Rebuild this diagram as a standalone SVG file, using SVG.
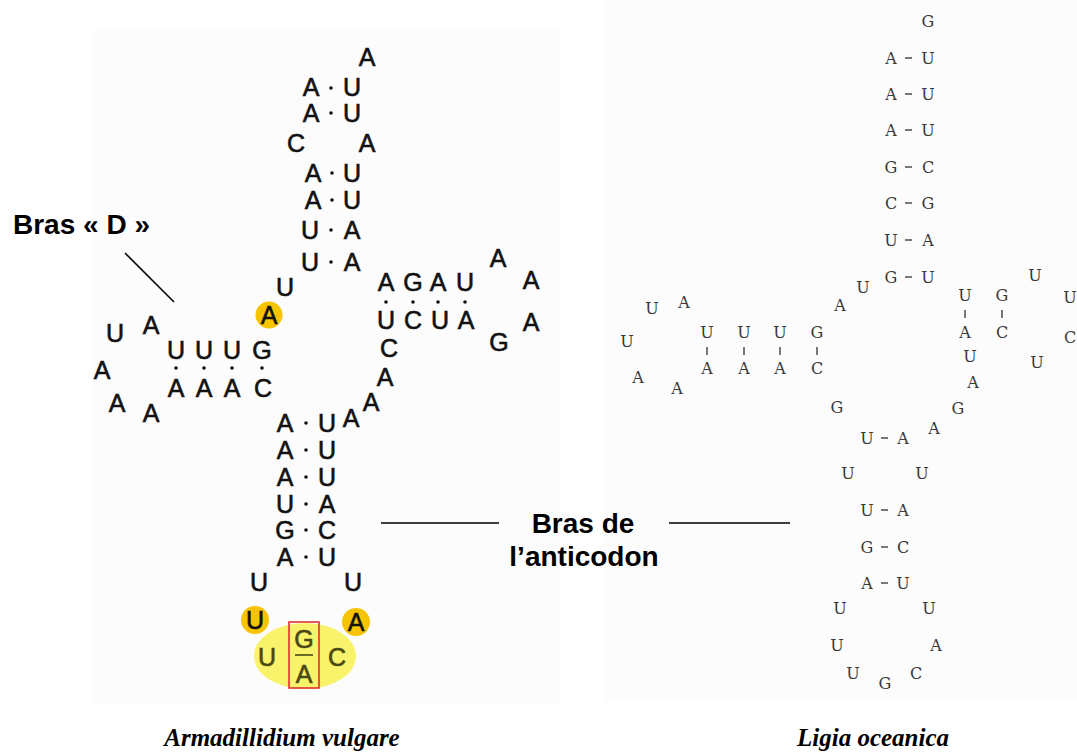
<svg xmlns="http://www.w3.org/2000/svg" width="1077" height="753" viewBox="0 0 1077 753">
<style>
.n{font-family:"Liberation Sans",Arial,sans-serif;font-size:25px;fill:#111;stroke:#111;stroke-width:0.6;text-anchor:middle}
.o{fill:#4a4715;stroke:#4a4715}
.r{font-family:"DejaVu Serif",serif;font-size:16px;fill:#383838;text-anchor:middle}
.lab{font-family:"Liberation Sans",Arial,sans-serif;font-weight:bold;font-size:28px;fill:#000}
.cap{font-family:"Liberation Serif","Times New Roman",serif;font-weight:bold;font-style:italic;font-size:25px;fill:#000;text-anchor:middle}
.dot{fill:#111}
.tick{stroke:#404040;stroke-width:1.4}
.ln{stroke:#000;stroke-width:1.6}
.hl{fill:#F6C400}
</style>
<rect x="0" y="0" width="1077" height="753" fill="#fff"/>
<rect x="93" y="30" width="467" height="675" fill="#fcfcfc"/>
<rect x="605" y="0" width="472" height="700" fill="#fcfcfc"/>

<!-- Armadillidium vulgare -->
<g id="av-acceptor">
<text class="n" x="367" y="66">A</text>
<text class="n" x="311" y="96">A</text><text class="n" x="352" y="96">U</text>
<text class="n" x="311" y="122">A</text><text class="n" x="352" y="122">U</text>
<text class="n" x="296" y="152">C</text><text class="n" x="367" y="152">A</text>
<text class="n" x="313" y="182">A</text><text class="n" x="352" y="182">U</text>
<text class="n" x="313" y="209">A</text><text class="n" x="352" y="209">U</text>
<text class="n" x="310" y="239">U</text><text class="n" x="352" y="239">A</text>
<text class="n" x="310" y="271">U</text><text class="n" x="352" y="271">A</text>
<text class="n" x="285" y="296">U</text>
</g>
<g id="av-marked-a">
<circle class="hl" cx="269" cy="315" r="13.5"/>
<text class="n" x="269" y="324">A</text>
</g>
<g id="av-darm">
<text class="n" x="115" y="342">U</text><text class="n" x="151" y="334">A</text>
<text class="n" x="176" y="359">U</text><text class="n" x="204" y="359">U</text><text class="n" x="232" y="359">U</text><text class="n" x="262" y="359">G</text>
<text class="n" x="176" y="397">A</text><text class="n" x="204" y="397">A</text><text class="n" x="232" y="397">A</text><text class="n" x="263" y="397">C</text>
<text class="n" x="102" y="379">A</text><text class="n" x="117" y="412">A</text><text class="n" x="151" y="422">A</text>
</g>
<g id="av-tarm">
<text class="n" x="386" y="291">A</text><text class="n" x="413" y="291">G</text><text class="n" x="438" y="291">A</text><text class="n" x="465" y="291">U</text>
<text class="n" x="386" y="329">U</text><text class="n" x="413" y="329">C</text><text class="n" x="440" y="329">U</text><text class="n" x="466" y="329">A</text>
<text class="n" x="498" y="267">A</text><text class="n" x="531" y="289">A</text><text class="n" x="531" y="331">A</text><text class="n" x="499" y="351">G</text>
<text class="n" x="389" y="357">C</text><text class="n" x="385" y="386">A</text><text class="n" x="371" y="411">A</text><text class="n" x="351" y="427">A</text>
</g>
<g id="av-anticodon">
<text class="n" x="285" y="432">A</text><text class="n" x="327" y="432">U</text>
<text class="n" x="285" y="459">A</text><text class="n" x="327" y="459">U</text>
<text class="n" x="285" y="486">A</text><text class="n" x="327" y="486">U</text>
<text class="n" x="285" y="513">U</text><text class="n" x="327" y="513">A</text>
<text class="n" x="285" y="539">G</text><text class="n" x="327" y="539">C</text>
<text class="n" x="285" y="566">A</text><text class="n" x="327" y="566">U</text>
<text class="n" x="259" y="591">U</text><text class="n" x="353" y="591">U</text>
</g>
<g id="av-anticodon-loop">
<ellipse cx="305" cy="656" rx="51" ry="33" fill="#F9F36B"/>
<circle class="hl" cx="255" cy="620" r="14"/>
<circle class="hl" cx="356" cy="622" r="14"/>
<text class="n" x="255" y="629">U</text>
<text class="n" x="356" y="631">A</text>
<text class="n o" x="267" y="666">U</text>
<text class="n o" x="337" y="666">C</text>
<rect x="289" y="622" width="30" height="66" fill="none" stroke="#E03030" stroke-width="1.6"/>
<text class="n o" x="304" y="648">G</text>
<line x1="295" y1="655" x2="313" y2="655" stroke="#4a4715" stroke-width="1.6"/>
<text class="n o" x="304" y="683">A</text>
</g>

<!-- Ligia oceanica -->
<g id="lo-acceptor">
<text class="r" x="928" y="27">G</text>
<text class="r" x="891" y="64">A</text><text class="r" x="928" y="64">U</text>
<text class="r" x="891" y="100">A</text><text class="r" x="928" y="100">U</text>
<text class="r" x="891" y="136">A</text><text class="r" x="928" y="136">U</text>
<text class="r" x="891" y="173">G</text><text class="r" x="928" y="173">C</text>
<text class="r" x="891" y="209">C</text><text class="r" x="928" y="209">G</text>
<text class="r" x="891" y="246">U</text><text class="r" x="928" y="246">A</text>
<text class="r" x="891" y="283">G</text><text class="r" x="928" y="283">U</text>
<text class="r" x="863" y="293">U</text><text class="r" x="840" y="311">A</text>
</g>
<g id="lo-darm">
<text class="r" x="652" y="314">U</text><text class="r" x="684" y="308">A</text>
<text class="r" x="627" y="347">U</text><text class="r" x="638" y="383">A</text><text class="r" x="677" y="394">A</text>
<text class="r" x="707" y="338">U</text><text class="r" x="744" y="338">U</text><text class="r" x="780" y="338">U</text><text class="r" x="817" y="338">G</text>
<text class="r" x="707" y="374">A</text><text class="r" x="744" y="374">A</text><text class="r" x="780" y="374">A</text><text class="r" x="817" y="374">C</text>
<text class="r" x="837" y="413">G</text>
</g>
<g id="lo-tarm">
<text class="r" x="965" y="301">U</text><text class="r" x="1002" y="301">G</text>
<text class="r" x="965" y="338">A</text><text class="r" x="1002" y="338">C</text>
<text class="r" x="1035" y="281">U</text><text class="r" x="1070" y="303">U</text>
<text class="r" x="1070" y="343">C</text><text class="r" x="1037" y="368">U</text>
<text class="r" x="970" y="362">U</text><text class="r" x="973" y="388">A</text>
<text class="r" x="958" y="414">G</text>
</g>
<g id="lo-anticodon">
<text class="r" x="934" y="434">A</text>
<text class="r" x="867" y="444">U</text><text class="r" x="903" y="444">A</text>
<text class="r" x="848" y="479">U</text><text class="r" x="922" y="479">U</text>
<text class="r" x="867" y="516">U</text><text class="r" x="903" y="516">A</text>
<text class="r" x="867" y="553">G</text><text class="r" x="903" y="553">C</text>
<text class="r" x="867" y="589">A</text><text class="r" x="903" y="589">U</text>
<text class="r" x="840" y="614">U</text><text class="r" x="929" y="614">U</text>
<text class="r" x="837" y="651">U</text><text class="r" x="936" y="651">A</text>
<text class="r" x="853" y="679">U</text><text class="r" x="885" y="689">G</text><text class="r" x="916" y="679">C</text>
</g>

<!-- connectors: base-pair bonds and label pointers -->
<g id="connectors">
<g class="dot">
<circle cx="331" cy="88" r="1.8"/><circle cx="331" cy="113" r="1.8"/>
<circle cx="332" cy="173" r="1.8"/><circle cx="332" cy="200" r="1.8"/>
<circle cx="331" cy="230" r="1.8"/><circle cx="331" cy="262" r="1.8"/>
<circle cx="176" cy="368" r="1.8"/><circle cx="204" cy="368" r="1.8"/><circle cx="232" cy="368" r="1.8"/><circle cx="262" cy="368" r="1.8"/>
<circle cx="386" cy="302" r="1.8"/><circle cx="413" cy="302" r="1.8"/><circle cx="438" cy="302" r="1.8"/><circle cx="465" cy="302" r="1.8"/>
<circle cx="306" cy="423" r="1.8"/><circle cx="306" cy="450" r="1.8"/><circle cx="306" cy="477" r="1.8"/>
<circle cx="306" cy="504" r="1.8"/><circle cx="306" cy="530" r="1.8"/><circle cx="306" cy="557" r="1.8"/>
</g>
<g class="tick">
<line x1="905" y1="58" x2="912" y2="58"/><line x1="905" y1="94" x2="912" y2="94"/><line x1="905" y1="130" x2="912" y2="130"/>
<line x1="905" y1="167" x2="912" y2="167"/><line x1="905" y1="203" x2="912" y2="203"/><line x1="905" y1="240" x2="912" y2="240"/>
<line x1="905" y1="277" x2="912" y2="277"/>
<line x1="707" y1="347" x2="707" y2="355"/><line x1="744" y1="347" x2="744" y2="355"/><line x1="780" y1="347" x2="780" y2="355"/><line x1="817" y1="347" x2="817" y2="355"/>
<line x1="965" y1="310" x2="965" y2="318"/><line x1="1002" y1="310" x2="1002" y2="318"/>
<line x1="881" y1="438" x2="888" y2="438"/><line x1="881" y1="510" x2="888" y2="510"/>
<line x1="881" y1="547" x2="888" y2="547"/><line x1="881" y1="583" x2="888" y2="583"/>
</g>
<line class="ln" x1="125" y1="253" x2="174" y2="302"/>
<line class="ln" x1="381" y1="523" x2="499" y2="523"/>
<line class="ln" x1="669" y1="523" x2="790" y2="523"/>
</g>

<g id="labels">
<text class="lab" x="13" y="234" font-size="27">Bras « D »</text>
<text class="lab" x="583" y="533" text-anchor="middle">Bras de</text>
<text class="lab" x="584" y="566" text-anchor="middle">l’anticodon</text>
<text class="cap" x="282" y="746">Armadillidium vulgare</text>
<text class="cap" x="873" y="746" font-size="24">Ligia oceanica</text>
</g>
</svg>
